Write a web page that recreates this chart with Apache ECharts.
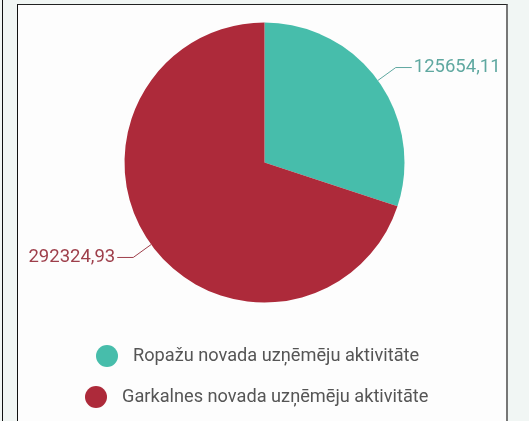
<!DOCTYPE html>
<html>
<head>
<meta charset="utf-8">
<script src="https://cdn.jsdelivr.net/npm/echarts@6/dist/echarts.min.js"></script>
<style>
html,body{margin:0;padding:0;width:529px;height:421px;overflow:hidden;background:#f1f6f4;font-family:Roboto,sans-serif;}
#line{position:absolute;left:2px;top:0;width:1px;height:421px;background:#111;}
#panel{position:absolute;left:17px;top:4px;width:488px;height:430px;background:#fdfdfd;border-left:1px solid #111;border-top:1px solid #222;border-right:2px solid #777;}
#chart{position:absolute;left:0;top:0;width:529px;height:421px;}
</style>
</head>
<body>
<div id="line"></div>
<div id="panel"></div>
<div id="chart"></div>
<script>
const categories = ['Ropažu novada uzņēmēju aktivitāte', 'Garkalnes novada uzņēmēju aktivitāte'];
const values = [125654.11, 292324.93];
const valueLabels = ['125654,11', '292324,93'];
const colors = ['#47bdab', '#ad2a3a'];
const labelColors = ['#5fa8a0', '#9e3f4b'];

const chart = echarts.init(document.getElementById('chart'), null, {renderer: 'canvas'});
const data = categories.map((c, i) => ({
  name: c,
  value: values[i],
  itemStyle: {color: colors[i]},
  label: {color: labelColors[i], formatter: valueLabels[i]},
  labelLine: {lineStyle: {color: labelColors[i]}}
}));
const legendBase = {
  orient: 'horizontal',
  icon: 'circle',
  itemWidth: 22,
  itemHeight: 22,
  padding: 0,
  textStyle: {fontFamily: 'Roboto', fontSize: 18.2, color: '#555', padding: [0, 0, 0, 10]}
};
chart.setOption({
  animation: false,
  legend: [
    Object.assign({}, legendBase, {data: [categories[0]], left: 96, top: 345}),
    Object.assign({}, legendBase, {data: [categories[1]], left: 85, top: 386})
  ],
  series: [{
    type: 'pie',
    center: [264.5, 162.5],
    radius: 140,
    startAngle: 90,
    clockwise: true,
    avoidLabelOverlap: false,
    label: {show: true, position: 'outside', fontFamily: 'Roboto', fontSize: 18.5, distanceToLabelLine: 2},
    labelLine: {show: true, length: 22, length2: 16, lineStyle: {width: 1}},
    itemStyle: {borderColor: '#fff', borderWidth: 0},
    emphasis: {disabled: true},
    data: data
  }]
});
</script>
</body>
</html>
